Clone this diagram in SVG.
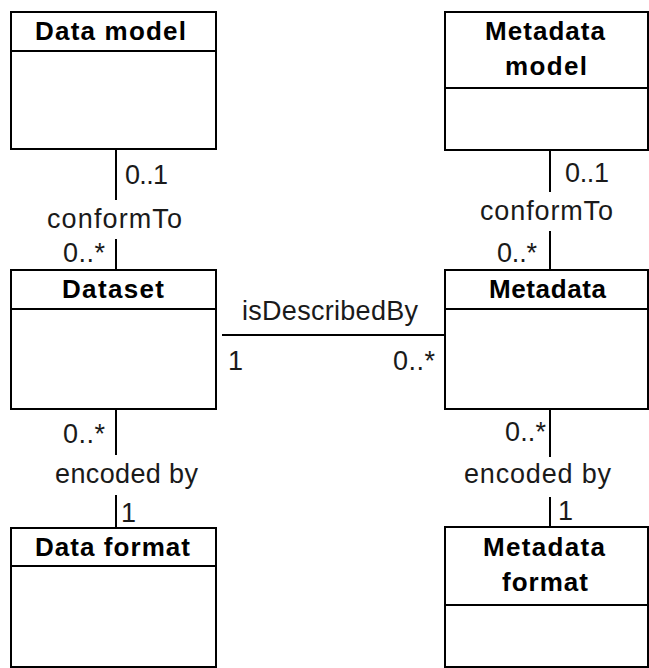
<svg xmlns="http://www.w3.org/2000/svg" width="649" height="668" viewBox="0 0 649 668">
  <style>
    .box { fill: #ffffff; stroke: #000000; stroke-width: 2; }
    .div { stroke: #000000; stroke-width: 2; }
    .title { font-family: "Liberation Sans", Arial, sans-serif; font-size: 26px; font-weight: bold; fill: #000000; }
    .lbl { font-family: "Liberation Sans", Arial, sans-serif; font-size: 27px; fill: #1a1a1a; }
    .edge { stroke: #000000; stroke-width: 2; fill: none; }
  </style>
  <rect width="649" height="668" fill="#ffffff"/>

  <!-- classes -->
  <g id="data-model">
    <rect class="box" x="11" y="12" width="205" height="137"/>
    <line class="div" x1="11" y1="51" x2="216" y2="51"/>
    <text class="title" x="35" y="40" textLength="151" lengthAdjust="spacing">Data model</text>
  </g>

  <g id="dataset">
    <rect class="box" x="11" y="270" width="205" height="139"/>
    <line class="div" x1="11" y1="309" x2="216" y2="309"/>
    <text class="title" x="62" y="298" textLength="102" lengthAdjust="spacing">Dataset</text>
  </g>

  <g id="data-format">
    <rect class="box" x="11" y="528" width="205" height="139"/>
    <line class="div" x1="11" y1="566" x2="216" y2="566"/>
    <text class="title" x="35" y="556" textLength="155" lengthAdjust="spacing">Data format</text>
  </g>

  <g id="metadata-model">
    <rect class="box" x="445" y="12" width="203" height="138"/>
    <line class="div" x1="445" y1="88" x2="648" y2="88"/>
    <text class="title" x="485" y="40" textLength="120" lengthAdjust="spacing">Metadata</text>
    <text class="title" x="505" y="75" textLength="82" lengthAdjust="spacing">model</text>
  </g>

  <g id="metadata">
    <rect class="box" x="445" y="270" width="203" height="139"/>
    <line class="div" x1="445" y1="309" x2="648" y2="309"/>
    <text class="title" x="489" y="298" textLength="117" lengthAdjust="spacing">Metadata</text>
  </g>

  <g id="metadata-format">
    <rect class="box" x="445" y="527" width="203" height="140"/>
    <line class="div" x1="445" y1="605" x2="648" y2="605"/>
    <text class="title" x="483" y="556" textLength="122" lengthAdjust="spacing">Metadata</text>
    <text class="title" x="502" y="591" textLength="86" lengthAdjust="spacing">format</text>
  </g>

  <!-- associations -->
  <g id="connectors">
    <!-- Data model / Dataset : conformTo -->
    <line class="edge" x1="116" y1="149" x2="116" y2="200"/>
    <line class="edge" x1="116" y1="239" x2="116" y2="270"/>
    <text class="lbl" x="125" y="184" textLength="43" lengthAdjust="spacing">0..1</text>
    <text class="lbl" x="47" y="228" textLength="135" lengthAdjust="spacing">conformTo</text>
    <text class="lbl" x="63" y="262" textLength="42" lengthAdjust="spacing">0..*</text>

    <!-- Metadata model / Metadata : conformTo -->
    <line class="edge" x1="550" y1="150" x2="550" y2="192"/>
    <line class="edge" x1="550" y1="231" x2="550" y2="270"/>
    <text class="lbl" x="565" y="182" textLength="44" lengthAdjust="spacing">0..1</text>
    <text class="lbl" x="480" y="220" textLength="133" lengthAdjust="spacing">conformTo</text>
    <text class="lbl" x="497" y="262" textLength="40" lengthAdjust="spacing">0..*</text>

    <!-- Dataset / Metadata : isDescribedBy -->
    <line class="edge" x1="222" y1="335" x2="445" y2="335"/>
    <text class="lbl" x="242" y="320" textLength="176" lengthAdjust="spacing">isDescribedBy</text>
    <text class="lbl" x="228" y="370">1</text>
    <text class="lbl" x="393" y="370" textLength="42" lengthAdjust="spacing">0..*</text>

    <!-- Dataset / Data format : encoded by -->
    <line class="edge" x1="116" y1="409" x2="116" y2="455"/>
    <line class="edge" x1="116" y1="495" x2="116" y2="528"/>
    <text class="lbl" x="63" y="443" textLength="42" lengthAdjust="spacing">0..*</text>
    <text class="lbl" x="55" y="483" textLength="143" lengthAdjust="spacing">encoded by</text>
    <text class="lbl" x="121" y="522">1</text>

    <!-- Metadata / Metadata format : encoded by -->
    <line class="edge" x1="550" y1="409" x2="550" y2="457"/>
    <line class="edge" x1="550" y1="497" x2="550" y2="527"/>
    <text class="lbl" x="505" y="441" textLength="41" lengthAdjust="spacing">0..*</text>
    <text class="lbl" x="464" y="483" textLength="147" lengthAdjust="spacing">encoded by</text>
    <text class="lbl" x="558" y="520">1</text>
  </g>
</svg>
